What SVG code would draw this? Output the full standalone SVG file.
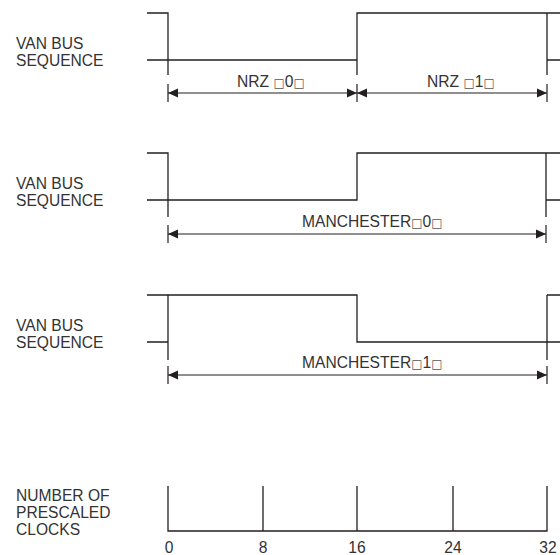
<svg xmlns="http://www.w3.org/2000/svg" width="560" height="555" viewBox="0 0 560 555">
<defs>
<style>
.w{fill:none;stroke:#231f20;stroke-width:1.3}
.d{fill:none;stroke:#231f20;stroke-width:1.2}
.t{font-family:"Liberation Sans",Arial,sans-serif;font-size:15.6px;fill:#333}
.b{font-family:"DejaVu Sans",sans-serif;font-size:12px;fill:#555}
.n{font-family:"Liberation Sans",Arial,sans-serif;font-size:15.6px;fill:#333;text-anchor:middle}
</style>
<marker id="ah" viewBox="0 0 10 10" refX="10" refY="5" markerWidth="10" markerHeight="10" markerUnits="userSpaceOnUse" orient="auto-start-reverse">
<path d="M0,0.5 L10,5 L0,9.5 Z" fill="#231f20"/>
</marker>
</defs>
<rect width="560" height="555" fill="#fff"/>

<g id="nrz">
<text class="t" x="16" y="49">VAN BUS</text>
<text class="t" x="16" y="66">SEQUENCE</text>
<path class="w" d="M147,13 H168 V75 M147,60 H357 V13 H560 M357,60 V75 M547,13 V75 M547,60 H560"/>
<text class="t" x="237" y="87">NRZ <tspan class="b">□</tspan>0<tspan class="b">□</tspan></text>
<text class="t" x="427" y="87">NRZ <tspan class="b">□</tspan>1<tspan class="b">□</tspan></text>
</g>

<g id="manchester0">
<text class="t" x="16" y="189">VAN BUS</text>
<text class="t" x="16" y="206">SEQUENCE</text>
<path class="w" d="M147,153 H168 V217 M147,200 H357 V153 H560 M546,153 V217 M546,200 H560"/>
<text class="t" x="302" y="227">MANCHESTER<tspan class="b">□</tspan>0<tspan class="b">□</tspan></text>
</g>

<g id="manchester1">
<text class="t" x="16" y="331">VAN BUS</text>
<text class="t" x="16" y="348">SEQUENCE</text>
<path class="w" d="M147,295 H357 V342 H560 M147,342 H168 M168,295 V360 M547,295 V360 M547,295 H560"/>
<text class="t" x="302" y="368">MANCHESTER<tspan class="b">□</tspan>1<tspan class="b">□</tspan></text>
</g>

<g id="clocks">
<text class="t" x="16" y="501">NUMBER OF</text>
<text class="t" x="16" y="518">PRESCALED</text>
<text class="t" x="16" y="535">CLOCKS</text>
<path class="w" d="M168,486 V531 H547 V486 M263,486 V531 M357,486 V531 M453,486 V531"/>
<text class="n" x="169" y="553">0</text>
<text class="n" x="263" y="553">8</text>
<text class="n" x="357" y="553">16</text>
<text class="n" x="453" y="553">24</text>
<text class="n" x="548" y="553">32</text>
</g>

<g id="connectors">
<path class="d" d="M168,84 V102 M357,84 V102 M547,84 V102"/>
<path class="d" d="M168,93 H357" marker-start="url(#ah)" marker-end="url(#ah)"/>
<path class="d" d="M357,93 H547" marker-start="url(#ah)" marker-end="url(#ah)"/>
<path class="d" d="M168,225 V243 M546,225 V243"/>
<path class="d" d="M168,234 H546" marker-start="url(#ah)" marker-end="url(#ah)"/>
<path class="d" d="M168,366 V384 M547,366 V384"/>
<path class="d" d="M168,375 H547" marker-start="url(#ah)" marker-end="url(#ah)"/>
</g>
</svg>
